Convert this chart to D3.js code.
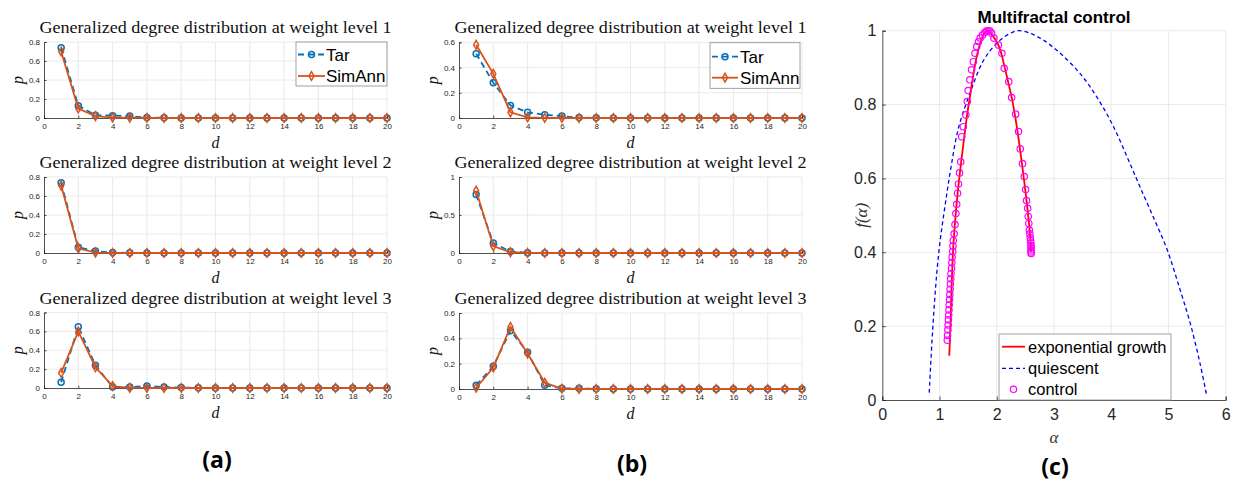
<!DOCTYPE html>
<html><head><meta charset="utf-8">
<script src="https://cdn.jsdelivr.net/npm/d3@7"></script>
<style>body{margin:0;background:#fff}svg{display:block}</style>
</head><body>
<svg id="c" width="1241" height="483"></svg>
<script>
// ---------- data ----------
const degrees = [1,2,3,4,5,6,7,8,9,10,11,12,13,14,15,16,17,18,19,20];
const xTicksDeg = [0,2,4,6,8,10,12,14,16,18,20];
const aTar1 = [0.74,0.13,0.03,0.025,0.02,0.005,0.002,0.001,0,0,0,0,0,0,0,0,0,0,0,0];
const aSim1 = [0.70,0.10,0.02,0.005,0.003,0.001,0,0,0,0,0,0,0,0,0,0,0,0,0,0];
const aTar2 = [0.74,0.06,0.02,0.004,0.002,0.001,0,0,0,0,0,0,0,0,0,0,0,0,0,0];
const aSim2 = [0.71,0.05,0.005,0.001,0,0,0,0,0,0,0,0,0,0,0,0,0,0,0,0];
const aTar3 = [0.06,0.65,0.24,0.01,0.01,0.02,0.01,0.005,0.002,0,0,0,0,0,0,0,0,0,0,0];
const aSim3 = [0.16,0.60,0.22,0.02,0.002,0.001,0,0,0,0,0,0,0,0,0,0,0,0,0,0];
const bTar1 = [0.51,0.28,0.10,0.045,0.025,0.015,0.003,0.001,0,0,0,0,0,0,0,0,0,0,0,0];
const bSim1 = [0.58,0.35,0.045,0.005,0.001,0,0,0,0,0,0,0,0,0,0,0,0,0,0,0];
const bTar2 = [0.77,0.13,0.02,0.002,0,0,0,0,0,0,0,0,0,0,0,0,0,0,0,0];
const bSim2 = [0.82,0.09,0.01,0.001,0,0,0,0,0,0,0,0,0,0,0,0,0,0,0,0];
const bTar3 = [0.03,0.18,0.46,0.29,0.03,0.005,0.005,0.001,0,0,0,0,0,0,0,0,0,0,0,0];
const bSim3 = [0.01,0.17,0.49,0.28,0.05,0.002,0,0,0,0,0,0,0,0,0,0,0,0,0,0];
const yTicks08 = [0,0.2,0.4,0.6,0.8];
const yTicks06 = [0,0.2,0.4,0.6];
const yTicks1 = [0,0.5,1];
const seriesNames = ["Tar","SimAnn"];

// panel (c)
const expAlpha = [1.17,1.19,1.21,1.235,1.27,1.31,1.345,1.39,1.43,1.48,1.53,1.59,1.65,1.72,1.79,1.85,1.94,2.00,2.06,2.14,2.20,2.26,2.35,2.44,2.52,2.58,2.60];
const expF     = [0.12,0.20,0.30,0.40,0.48,0.55,0.60,0.66,0.71,0.77,0.82,0.88,0.93,0.97,0.995,1.0,0.984,0.97,0.948,0.90,0.86,0.82,0.74,0.64,0.54,0.45,0.40];
const quiAlpha = [0.82,0.88,0.95,1.01,1.10,1.20,1.33,1.53,1.77,2.00,2.20,2.38,2.60,2.81,3.10,3.45,3.75,4.04,4.30,4.50,4.75,4.97,5.20,5.38,5.55,5.67];
const quiF     = [0.02,0.19,0.34,0.43,0.53,0.63,0.736,0.83,0.92,0.966,0.99,1.0,0.992,0.975,0.94,0.885,0.82,0.74,0.65,0.578,0.49,0.41,0.30,0.208,0.10,0.01];
const ctlAlpha = [1.136,1.14,1.145,1.15,1.155,1.16,1.165,1.17,1.175,1.18,1.185,1.19,1.195,1.20,1.21,1.215,1.22,1.23,1.235,1.24,1.255,1.27,1.285,1.30,1.315,1.33,1.35,1.37,1.387,1.415,1.46,1.485,1.50,1.53,1.56,1.59,1.62,1.65,1.68,1.71,1.75,1.79,1.82,1.85,1.88,1.91,1.95,2.03,2.09,2.13,2.21,2.26,2.33,2.38,2.41,2.45,2.48,2.505,2.52,2.54,2.55,2.56,2.57,2.578,2.585,2.59,2.595,2.598,2.60,2.60,2.60,2.60];
const ctlF     = [0.162,0.175,0.19,0.203,0.217,0.23,0.244,0.258,0.272,0.286,0.30,0.314,0.328,0.342,0.357,0.372,0.387,0.402,0.417,0.432,0.45,0.475,0.505,0.53,0.56,0.585,0.615,0.645,0.713,0.74,0.772,0.808,0.838,0.867,0.894,0.916,0.939,0.957,0.97,0.98,0.988,0.995,0.999,1.0,0.999,0.993,0.98,0.961,0.939,0.898,0.862,0.819,0.774,0.727,0.68,0.64,0.605,0.57,0.54,0.519,0.497,0.478,0.46,0.45,0.44,0.432,0.425,0.418,0.412,0.406,0.401,0.397];
const cXTicks = [0,1,2,3,4,5,6];
const cYTicks = [0,0.2,0.4,0.6,0.8,1];
const cLegend = ["exponential growth","quiescent","control"];

// ---------- drawing ----------
const svg = d3.select("#c");
const TAR = "#0072BD", SIM = "#D95319", AX = "#262626", GRID = "#e5e5e5";
const serif = "'Liberation Serif','DejaVu Serif',serif";
const sans = "'Liberation Sans',Arial,sans-serif";

function smallPanel(x0,x1,yTop,yBot,yMax,yTicks,tar,sim,level,showLegend,legendBox){
  const x = d3.scaleLinear().domain([0,20]).range([x0,x1]);
  const y = d3.scaleLinear().domain([0,yMax]).range([yBot,yTop]);
  const g = svg.append("g");
  // grid
  g.append("g").selectAll("line").data(xTicksDeg.slice(1)).join("line")
    .attr("x1",d=>x(d)).attr("x2",d=>x(d)).attr("y1",yTop).attr("y2",yBot)
    .attr("stroke",GRID).attr("stroke-width",0.8);
  g.append("g").selectAll("line").data(yTicks.slice(1)).join("line")
    .attr("x1",x0).attr("x2",x1).attr("y1",d=>y(d)).attr("y2",d=>y(d))
    .attr("stroke",GRID).attr("stroke-width",0.8);
  // axes
  const xa = g.append("g").attr("transform",`translate(0,${yBot})`)
    .call(d3.axisBottom(x).tickValues(xTicksDeg).tickSize(-2.5).tickPadding(5).tickFormat(d3.format("d")));
  const ya = g.append("g").attr("transform",`translate(${x0},0)`)
    .call(d3.axisLeft(y).tickValues(yTicks).tickSize(-2.5).tickPadding(4).tickFormat(d=>String(d)));
  [xa,ya].forEach(a=>{
    a.select(".domain").attr("stroke",AX).attr("stroke-width",0.8);
    a.selectAll(".tick line").attr("stroke",AX).attr("stroke-width",0.8);
    a.selectAll("text").attr("fill",AX).style("font-family",sans).style("font-size","8px");
  });
  // title
  g.append("text").attr("x",(x0+x1)/2).attr("y",yTop-9).attr("text-anchor","middle")
    .attr("textLength",352).attr("lengthAdjust","spacingAndGlyphs")
    .style("font-family",serif).style("font-size","16px").attr("fill","#111")
    .text("Generalized degree distribution at weight level "+level);
  // labels
  g.append("text").attr("transform",`translate(${x0-21},${(yTop+yBot)/2}) rotate(-90)`)
    .attr("text-anchor","middle").style("font-family",serif).style("font-style","italic")
    .style("font-size","16px").attr("fill","#111").text("p");
  g.append("text").attr("x",(x0+x1)/2).attr("y",yBot+29.5).attr("text-anchor","middle")
    .style("font-family",serif).style("font-style","italic")
    .style("font-size","16px").attr("fill","#111").text("d");
  // lines
  const line = d3.line().x((d,i)=>x(degrees[i])).y(d=>y(d));
  g.append("path").datum(tar).attr("d",line).attr("fill","none").attr("stroke",TAR)
    .attr("stroke-width",1.8).attr("stroke-dasharray","6,4");
  g.append("g").selectAll("circle").data(tar).join("circle")
    .attr("cx",(d,i)=>x(degrees[i])).attr("cy",d=>y(d)).attr("r",3)
    .attr("fill","none").attr("stroke",TAR).attr("stroke-width",1.5);
  g.append("path").datum(sim).attr("d",line).attr("fill","none").attr("stroke",SIM).attr("stroke-width",1.8);
  const dia = d3.symbol().type(d3.symbolDiamond).size(22);
  g.append("g").selectAll("path").data(sim).join("path")
    .attr("transform",(d,i)=>`translate(${x(degrees[i])},${y(d)})`).attr("d",dia)
    .attr("fill","none").attr("stroke",SIM).attr("stroke-width",1.5);
  if(showLegend){
    const [lx0,lx1,ly0,ly1,sx0,sx1,tx,r1,r2] = legendBox;
    const lg = g.append("g");
    lg.append("rect").attr("x",lx0).attr("y",ly0).attr("width",lx1-lx0).attr("height",ly1-ly0)
      .attr("fill","#fff").attr("stroke","#8a8a8a").attr("stroke-width",0.8);
    lg.append("line").attr("x1",sx0).attr("x2",sx1).attr("y1",r1).attr("y2",r1)
      .attr("stroke",TAR).attr("stroke-width",1.8).attr("stroke-dasharray","6,4");
    lg.append("circle").attr("cx",(sx0+sx1)/2).attr("cy",r1).attr("r",3).attr("fill","none").attr("stroke",TAR).attr("stroke-width",1.5);
    lg.append("line").attr("x1",sx0).attr("x2",sx1).attr("y1",r2).attr("y2",r2)
      .attr("stroke",SIM).attr("stroke-width",1.8);
    lg.append("path").attr("transform",`translate(${(sx0+sx1)/2},${r2})`).attr("d",dia)
      .attr("fill","none").attr("stroke",SIM).attr("stroke-width",1.5);
    lg.selectAll("text").data(seriesNames).join("text")
      .attr("x",tx).attr("y",(d,i)=>i===0?r1:r2).attr("dy","0.36em")
      .style("font-family",sans).style("font-size","17px").attr("fill","#000").text(d=>d);
  }
}

smallPanel(44,387,42,118,0.8,yTicks08,aTar1,aSim1,1,true,[296,387,42,86,298,325,326,54.5,76]);
smallPanel(44,387,177,253,0.8,yTicks08,aTar2,aSim2,2,false);
smallPanel(44,387,312.5,388,0.8,yTicks08,aTar3,aSim3,3,false);
smallPanel(459,802,42.3,118,0.6,yTicks06,bTar1,bSim1,1,true,[710,800,42.7,88.3,712,738,740,56.7,77.7]);
smallPanel(459,802,177,253,1,yTicks1,bTar2,bSim2,2,false);
smallPanel(459,802,313,389,0.6,yTicks06,bTar3,bSim3,3,false);

// ----- panel (c) -----
(function(){
  const x0=882.3,x1=1225.7,yT=30.7,yB=400;
  const x = d3.scaleLinear().domain([0,6]).range([x0,x1]);
  const y = d3.scaleLinear().domain([0,1]).range([yB,yT]);
  const g = svg.append("g");
  g.append("g").selectAll("line").data(cXTicks.slice(1)).join("line")
    .attr("x1",d=>x(d)).attr("x2",d=>x(d)).attr("y1",yT).attr("y2",yB).attr("stroke",GRID).attr("stroke-width",0.8);
  g.append("g").selectAll("line").data(cYTicks.slice(1)).join("line")
    .attr("x1",x0).attr("x2",x1).attr("y1",d=>y(d)).attr("y2",d=>y(d)).attr("stroke",GRID).attr("stroke-width",0.8);
  const xa = g.append("g").attr("transform",`translate(0,${yB})`)
    .call(d3.axisBottom(x).tickValues(cXTicks).tickSize(-3.5).tickPadding(9).tickFormat(d3.format("d")));
  const ya = g.append("g").attr("transform",`translate(${x0},0)`)
    .call(d3.axisLeft(y).tickValues(cYTicks).tickSize(-3.5).tickPadding(6).tickFormat(d=>String(d)));
  [xa,ya].forEach(a=>{
    a.select(".domain").attr("stroke",AX).attr("stroke-width",0.8);
    a.selectAll(".tick line").attr("stroke",AX).attr("stroke-width",0.8);
    a.selectAll("text").attr("fill",AX).style("font-family",sans).style("font-size","16px");
  });
  g.append("text").attr("x",1054).attr("y",23).attr("text-anchor","middle")
    .style("font-family",sans).style("font-weight","bold").style("font-size","17px").attr("fill","#000")
    .text("Multifractal control");
  g.append("text").attr("x",1054).attr("y",443).attr("text-anchor","middle")
    .style("font-family",serif).style("font-style","italic").style("font-size","17px").attr("fill","#333").text("α");
  g.append("text").attr("transform",`translate(867,${(yT+yB)/2}) rotate(-90)`).attr("text-anchor","middle")
    .style("font-family",serif).style("font-style","italic").style("font-size","17px").attr("fill","#333").text("f(α)");
  const qLine = d3.line().curve(d3.curveCatmullRom).x((d,i)=>x(quiAlpha[i])).y(d=>y(d));
  g.append("path").datum(quiF).attr("d",qLine).attr("fill","none").attr("stroke","#0000ff")
    .attr("stroke-width",1.3).attr("stroke-dasharray","4,3");
  const eLine = d3.line().curve(d3.curveCatmullRom).x((d,i)=>x(expAlpha[i])).y(d=>y(d));
  g.append("path").datum(expF).attr("d",eLine).attr("fill","none").attr("stroke","#ff0000").attr("stroke-width",1.8);
  g.append("g").selectAll("circle").data(ctlF).join("circle")
    .attr("cx",(d,i)=>x(ctlAlpha[i])).attr("cy",d=>y(d)).attr("r",3.2)
    .attr("fill","none").attr("stroke","#ff00ff").attr("stroke-width",1.2);
  // legend
  const lg = g.append("g");
  lg.append("rect").attr("x",999).attr("y",334).attr("width",172).attr("height",66)
    .attr("fill","#fff").attr("stroke","#8a8a8a").attr("stroke-width",0.8);
  const rows=[346.7,368.3,389.3];
  lg.append("line").attr("x1",1002).attr("x2",1025).attr("y1",rows[0]).attr("y2",rows[0]).attr("stroke","#ff0000").attr("stroke-width",1.8);
  lg.append("line").attr("x1",1002).attr("x2",1025).attr("y1",rows[1]).attr("y2",rows[1]).attr("stroke","#0000ff").attr("stroke-width",1.3).attr("stroke-dasharray","4,3");
  lg.append("circle").attr("cx",1013.5).attr("cy",rows[2]).attr("r",3.2).attr("fill","none").attr("stroke","#ff00ff").attr("stroke-width",1.2);
  lg.selectAll("text").data(cLegend).join("text").attr("x",1028).attr("y",(d,i)=>rows[i]).attr("dy","0.36em")
    .style("font-family",sans).style("font-size","16.5px").attr("fill","#000").text(d=>d);
})();

// panel labels
[["(a)",217,468],["(b)",632,472],["(c)",1055,475]].forEach(([t,px,py])=>{
  svg.append("text").attr("x",px).attr("y",py).attr("text-anchor","middle")
    .style("font-family","'Open Sans','Liberation Sans',sans-serif").style("font-weight","bold").style("font-size","23px")
    .attr("fill","#000").text(t);
});
</script>
</body></html>
